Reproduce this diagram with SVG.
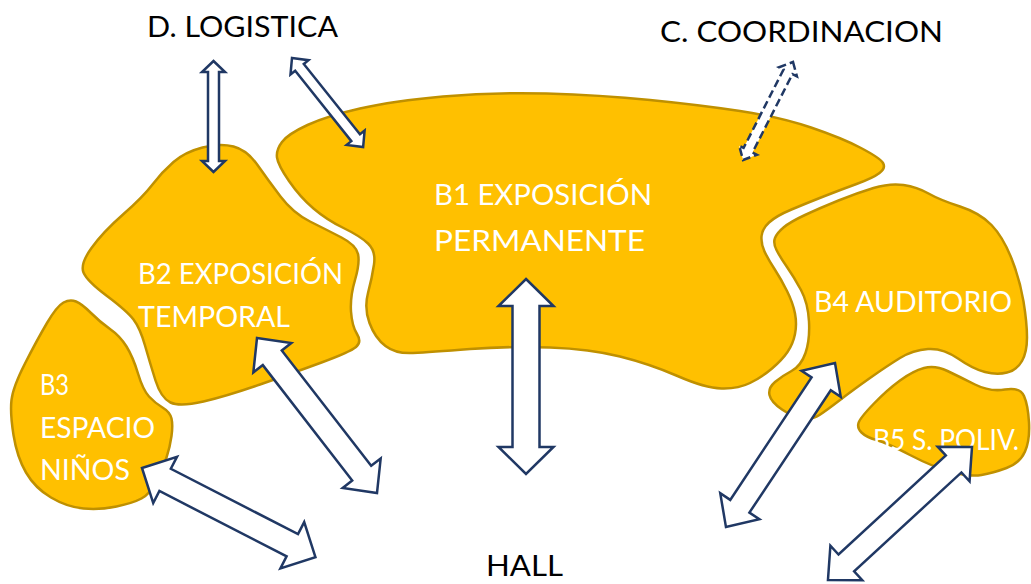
<svg xmlns="http://www.w3.org/2000/svg" width="1031" height="584" viewBox="0 0 1031 584">
<style>
.blob{fill:#FFC000;stroke:#BF9000;stroke-width:2.5;stroke-linejoin:round}
.lbl{font-family:Lato,"Noto Sans","Liberation Sans",sans-serif;font-size:29px;fill:#FFFFFF}
.ext{font-family:Lato,"Noto Sans","Liberation Sans",sans-serif;font-size:29px;fill:#000000}
.arr{fill:#FFFFFF;stroke:#203864;stroke-width:2.5;stroke-linejoin:miter}
.dash{stroke-dasharray:8 4}
</style>
<rect width="1031" height="584" fill="#FFFFFF"/>
<g id="B1">
<path class="blob" d="M 277,157.5 Q 276,150 282,142 Q 288,134 307.5,125 Q 327,116 360,108.5 Q 393,101 443,96.5 Q 493,92 546.5,93.5 Q 600,95 650,100 Q 700,105 740,111 Q 780,117 811,127.5 Q 842,138 861,148 Q 880,158 883,163 Q 886,168 879.5,173 Q 873,178 856.5,184 Q 840,190 823.5,196.5 Q 807,203 791.5,209.5 Q 776,216 769,222.5 Q 762,229 761.5,236.5 Q 761,244 764.5,251.5 Q 768,259 774.5,269 Q 781,279 787,291 Q 793,303 795,313.5 Q 797,324 795,334 Q 793,344 787.5,352 Q 782,360 772,368.5 Q 762,377 750,383 Q 738,389 721.5,388.5 Q 705,388 677.5,376 Q 650,364 620,356.5 Q 590,349 550,347.5 Q 510,346 470,349 Q 430,352 413,353 Q 396,354 385.5,346 Q 375,338 369.5,323 Q 364,308 368,293 Q 372,278 374,264.5 Q 376,251 368,243.5 Q 360,236 343.5,228 Q 327,220 313.5,208.5 Q 300,197 289,181 Q 278,165 277,157.5 Z"/>
<text class="lbl" x="434" y="205" textLength="218" lengthAdjust="spacingAndGlyphs">B1 EXPOSICIÓN</text>
<text class="lbl" x="434" y="251" textLength="211" lengthAdjust="spacingAndGlyphs">PERMANENTE</text>
</g>
<g id="B2">
<path class="blob" d="M 202.5,147.5 Q 220,143 233.5,146.5 Q 247,150 257.5,165 Q 268,180 280.5,196.5 Q 293,213 310,221.5 Q 327,230 341.5,237.5 Q 356,245 358,254 Q 360,263 355,280 Q 350,297 351,311.5 Q 352,326 357,334 Q 362,342 356,347 Q 350,352 321.5,362.5 Q 293,373 260,384.5 Q 227,396 203.5,401.5 Q 180,407 170.5,402.5 Q 161,398 155.5,380.5 Q 150,363 145,345.5 Q 140,328 133.5,319.5 Q 127,311 107,296 Q 87,281 83.5,272.5 Q 80,264 91.5,248 Q 103,232 123,214.5 Q 143,197 152.5,184.5 Q 162,172 173.5,162 Q 185,152 202.5,147.5 Z"/>
<text class="lbl" x="138" y="284" textLength="205" lengthAdjust="spacingAndGlyphs">B2 EXPOSICIÓN</text>
<text class="lbl" x="138" y="327" textLength="152" lengthAdjust="spacingAndGlyphs">TEMPORAL</text>
</g>
<g id="B3">
<path class="blob" d="M 63.5,302.5 Q 70,299 76,301.5 Q 82,304 91,313 Q 100,322 110,329 Q 120,336 126.5,346.5 Q 133,357 138,373.5 Q 143,390 149,396.5 Q 155,403 162.5,407.5 Q 170,412 171.5,418.5 Q 173,425 171.5,436 Q 170,447 166.5,457.5 Q 163,468 156.5,481 Q 150,494 141.5,498.5 Q 133,503 116.5,506.5 Q 100,510 83.5,508.5 Q 67,507 51,497.5 Q 35,488 26,472.5 Q 17,457 13.5,435 Q 10,413 11.5,400 Q 13,387 25,363.5 Q 37,340 47,323 Q 57,306 63.5,302.5 Z"/>
<text class="lbl" x="40" y="395" textLength="29" lengthAdjust="spacingAndGlyphs">B3</text>
<text class="lbl" x="40" y="438" textLength="115" lengthAdjust="spacingAndGlyphs">ESPACIO</text>
<text class="lbl" x="40" y="480" textLength="90" lengthAdjust="spacingAndGlyphs">NIÑOS</text>
</g>
<g id="B4">
<path class="blob" d="M 775,238 Q 777,233 783.5,227.5 Q 790,222 805,215 Q 820,208 838.5,200.5 Q 857,193 873.5,188 Q 890,183 903.5,185 Q 917,187 928.5,193.5 Q 940,200 960,206.5 Q 980,213 991.5,225 Q 1003,237 1011.5,258.5 Q 1020,280 1023.5,301.5 Q 1027,323 1027,337.5 Q 1027,352 1022,361 Q 1017,370 1007,372.5 Q 997,375 985,372 Q 973,369 958,358.5 Q 943,348 928,349 Q 913,350 900,358 Q 887,366 870,378 Q 853,390 840,400 Q 827,410 819.5,415 Q 812,420 802.5,418.5 Q 793,417 782,409.5 Q 771,402 769.5,395 Q 768,388 775,382 Q 782,376 791.5,371 Q 801,366 805.5,353 Q 810,340 809,321.5 Q 808,303 801,290 Q 794,277 787,267 Q 780,257 776.5,250 Q 773,243 775,238 Z"/>
<text class="lbl" x="814" y="312" textLength="198" lengthAdjust="spacingAndGlyphs">B4 AUDITORIO</text>
</g>
<g id="B5">
<path class="blob" d="M 858.5,423 Q 860,418 873.5,404 Q 887,390 900,380.5 Q 913,371 924,368 Q 935,365 947.5,371 Q 960,377 975,384.5 Q 990,392 1005,389.5 Q 1020,387 1024,396 Q 1028,405 1029,422.5 Q 1030,440 1025,451.5 Q 1020,463 1006.5,468 Q 993,473 981.5,475 Q 970,477 951.5,472 Q 933,467 910,455 Q 887,443 876.5,440 Q 866,437 861.5,432.5 Q 857,428 858.5,423 Z"/>
<text class="lbl" x="873" y="450" textLength="146" lengthAdjust="spacingAndGlyphs">B5 S. POLIV.</text>
</g>
<g id="D_LOGISTICA">
<text class="ext" x="147" y="37" textLength="191" lengthAdjust="spacingAndGlyphs">D. LOGISTICA</text>
</g>
<g id="C_COORDINACION">
<text class="ext" x="660" y="42" textLength="283" lengthAdjust="spacingAndGlyphs">C. COORDINACION</text>
</g>
<g id="HALL">
<text class="ext" x="486" y="576" textLength="77" lengthAdjust="spacingAndGlyphs">HALL</text>
</g>
<g id="connectors">
<polygon class="arr" transform="translate(213.5,61) rotate(90)" points="0,0 11,-11.5 11,-5.5 100,-5.5 100,-11.5 111,0 100,11.5 100,5.5 11,5.5 11,11.5"/>
<polygon class="arr" transform="translate(292,58) rotate(51.4)" points="0,0 12,-11.5 12,-5.5 102,-5.5 102,-11.5 114,0 102,11.5 102,5.5 12,5.5 12,11.5"/>
<polygon class="arr dash" transform="translate(793,62) rotate(117)" points="0,0 11,-10 11,-5 99,-5 99,-10 110,0 99,10 99,5 11,5 11,10"/>
<polygon class="arr" transform="translate(526,279) rotate(90)" points="0,0 27,-27.5 27,-13.5 168,-13.5 168,-27.5 195,0 168,27.5 168,13.5 27,13.5 27,27.5"/>
<polygon class="arr" transform="translate(257,338) rotate(52.25)" points="0,0 25,-24 25,-12 171,-12 171,-24 196,0 171,24 171,12 25,12 25,24"/>
<polygon class="arr" transform="translate(142,468) rotate(27.2)" points="0,0 26,-26 26,-12.5 169,-12.5 169,-26 195,0 169,26 169,12.5 26,12.5 26,26"/>
<polygon class="arr" transform="translate(835,363) rotate(123.6)" points="0,0 25,-23.5 25,-11.5 172,-11.5 172,-23.5 197,0 172,23.5 172,11.5 25,11.5 25,23.5"/>
<polygon class="arr" transform="translate(972,447) rotate(137.3)" points="0,0 25,-23.5 25,-11.5 171,-11.5 171,-23.5 196,0 171,23.5 171,11.5 25,11.5 25,23.5"/>
</g>
</svg>
